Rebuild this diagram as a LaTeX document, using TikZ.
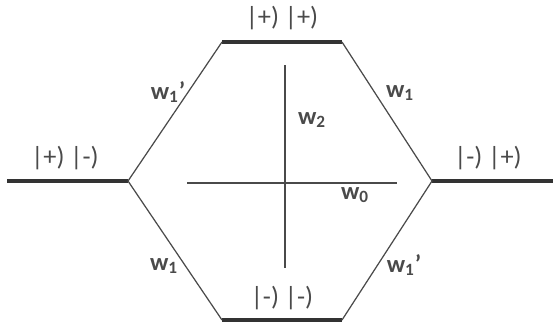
\documentclass[tikz,border=0pt]{standalone}
\usepackage{fontspec}
\setmainfont{Carlito}
\usepackage{tikz}
\usetikzlibrary{calc}

\definecolor{inkgray}{HTML}{4A4A4A}
\definecolor{bargray}{HTML}{333333}

\tikzset{
    edge/.style={draw=inkgray, line width=0.7pt},
    bar/.style={draw=bargray, line width=2.6pt},
    ket/.style={text=inkgray, font=\fontsize{15}{17}\selectfont},
    wlab/.style={text=inkgray, font=\fontsize{14}{16}\selectfont\bfseries}
}

\begin{document}
\begin{tikzpicture}[x=0.02cm, y=-0.02cm]

\useasboundingbox (0,0) rectangle (553,322);

% Corners of the hexagon
\coordinate (tl) at (222,42);
\coordinate (tr) at (342,42);
\coordinate (ml) at (128,181);
\coordinate (mr) at (432,181);
\coordinate (bl) at (222,320);
\coordinate (br) at (342,320);

% Outer ends of the side bars
\coordinate (lend) at (7,181);
\coordinate (rend) at (553,181);

% Bars
\draw[bar] (tl) -- (tr);
\draw[bar] (lend) -- (ml);
\draw[bar] (mr) -- (rend);
\draw[bar] (bl) -- (br);

% Hexagon sides
\draw[edge] (tl) -- (ml) -- (bl);
\draw[edge] (tr) -- (mr) -- (br);

% Axes
\coordinate (vtop) at (285,65);
\coordinate (vbot) at (285,268);
\coordinate (hleft) at (187,183);
\coordinate (hright) at (397,183);
\draw[edge] (vtop) -- (vbot);
\draw[edge] (hleft) -- (hright);

% States
\node[ket] (kpp) at (282,18) {|+) |+)};
\node[ket] (kpm) at (65,158) {|+) |-)};
\node[ket] (kmp) at (488,158) {|-) |+)};
\node[ket] (kmm) at (282,298) {|-) |-)};

% Transition rates
\node[wlab] (w1tl) at (168,92) {w\textsubscript{1}'};
\node[wlab] (w1tr) at (400,93) {w\textsubscript{1}};
\node[wlab] (w2) at (312,120) {w\textsubscript{2}};
\node[wlab] (w0) at (355,195) {w\textsubscript{0}};
\node[wlab] (w1bl) at (164,266) {w\textsubscript{1}};
\node[wlab] (w1br) at (404,265) {w\textsubscript{1}'};

\end{tikzpicture}
\end{document}
